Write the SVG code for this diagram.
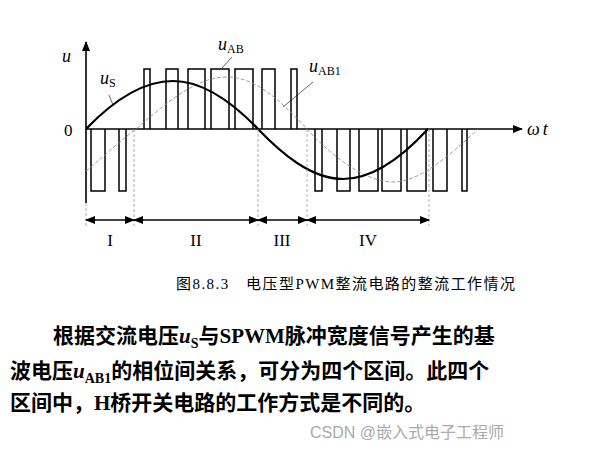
<svg xmlns="http://www.w3.org/2000/svg" width="607" height="452" viewBox="0 0 607 452">
<style>
.ax{stroke:#000;stroke-width:1.6;fill:none}
.p{stroke:#000;stroke-width:1.5;fill:none}
.dv{stroke:#999;stroke-width:0.8;stroke-dasharray:3,2;fill:none}
.it{font-family:"Liberation Serif",serif;font-style:italic;font-size:18px}
.sub{font-family:"Liberation Serif",serif;font-size:12px;font-style:normal}
.rm{font-family:"Liberation Serif",serif;font-size:17px}
.cj{font-family:"Liberation Serif","Noto Sans CJK SC",serif;font-size:15px}
.bd{font-family:"Liberation Serif","Noto Sans CJK SC",serif;font-size:21px;font-weight:bold}
</style>
<defs>
<marker id="ah" markerWidth="10" markerHeight="8" refX="9" refY="4" orient="auto" markerUnits="userSpaceOnUse"><path d="M0,0 L10,4 L0,8 Z" fill="#000"/></marker>
<marker id="sa" markerWidth="10" markerHeight="8" refX="9" refY="4" orient="auto-start-reverse" markerUnits="userSpaceOnUse"><path d="M0,0 L10,4 L0,8 Z" fill="#000"/></marker>
</defs>
<rect width="607" height="452" fill="#fff"/>
<g id="axes">
<line class="ax" x1="86" y1="203" x2="86" y2="42" marker-end="url(#ah)"/>
<line class="ax" x1="86" y1="129" x2="522" y2="129" marker-end="url(#ah)"/>
<text class="it" x="62" y="62">u</text>
<text class="rm" x="64" y="136">0</text>
<text class="it" x="527" y="135">ω<tspan dx="3">t</tspan></text>
</g>
<g id="pulses">
<path class="p" d="M91,129V191H105V129M119,129V191H126V129"/>
<path class="p" d="M144,129V69H150V129M166,129V69H178V129M188,129V69H205V129M211,129V69H229V129M235,129V69H253V129M262,129V69H275V129M291,129V69H297V129"/>
<path class="p" d="M315,129V191H322V129M337,129V191H350V129M359,129V191H378V129M382,129V191H401V129M407,129V191H426V129M433,129V191H447V129M462,129V191H467V129"/>
</g>
<g id="uAB1">
<path d="M86,171 C100,160 115,145 136,129 C175,95 200,77 227,77 C255,77 280,100 307,129 C330,155 365,182 393,182 C420,182 450,155 478,129" fill="none" stroke="#888" stroke-width="0.8" stroke-dasharray="4,2"/>
</g>
<g id="uS">
<path d="M86,129 C110,104 140,81 173,81 C205,81 235,105 258,129 C281,153 311,179 343,179 C375,179 405,154 428,129" fill="none" stroke="#000" stroke-width="2.2"/>
</g>
<g id="intervals">
<path class="dv" d="M86,203V226M134,129V226M258,129V226M307,129V226M429,129V226"/>
<line class="p" stroke-width="1.2" x1="86" y1="220" x2="134" y2="220" marker-start="url(#sa)" marker-end="url(#sa)"/>
<line class="p" stroke-width="1.2" x1="134" y1="220" x2="258" y2="220" marker-start="url(#sa)" marker-end="url(#sa)"/>
<line class="p" stroke-width="1.2" x1="258" y1="220" x2="307" y2="220" marker-start="url(#sa)" marker-end="url(#sa)"/>
<line class="p" stroke-width="1.2" x1="307" y1="220" x2="429" y2="220" marker-start="url(#sa)" marker-end="url(#sa)"/>
<g class="rm" text-anchor="middle"><text x="110" y="246">I</text><text x="196" y="246">II</text><text x="282" y="246">III</text><text x="368" y="246">IV</text></g>
</g>
<g id="labels">
<text class="it" x="218" y="50">u<tspan class="sub" dy="3">AB</tspan></text>
<line x1="232" y1="57" x2="222" y2="68" stroke="#000" stroke-width="0.6"/>
<text class="it" x="100" y="84">u<tspan class="sub" dy="3">S</tspan></text>
<line x1="109" y1="95" x2="113" y2="105" stroke="#000" stroke-width="0.6"/>
<text class="it" x="309" y="72">u<tspan class="sub" dy="3">AB1</tspan></text>
<line x1="313" y1="82" x2="283" y2="107" stroke="#000" stroke-width="0.6"/>
</g>
<text class="cj" x="176" y="289" textLength="339">图8.8.3　电压型PWM整流电路的整流工作情况</text>
<text class="bd" x="53" y="343">根据交流电压<tspan font-style="italic">u</tspan><tspan font-size="14" dy="5">S</tspan><tspan dy="-5">与SPWM脉冲宽度信号产生的基</tspan></text>
<text class="bd" x="10" y="378">波电压<tspan font-style="italic">u</tspan><tspan font-size="14" dy="5">AB1</tspan><tspan dy="-5">的相位间关系，可分为四个区间。此四个</tspan></text>
<text class="bd" x="10" y="410">区间中，H桥开关电路的工作方式是不同的。</text>
<text x="310" y="438" font-family="'Liberation Sans','Noto Sans CJK SC',sans-serif" font-size="16" fill="#aaa">CSDN @嵌入式电子工程师</text>
</svg>
